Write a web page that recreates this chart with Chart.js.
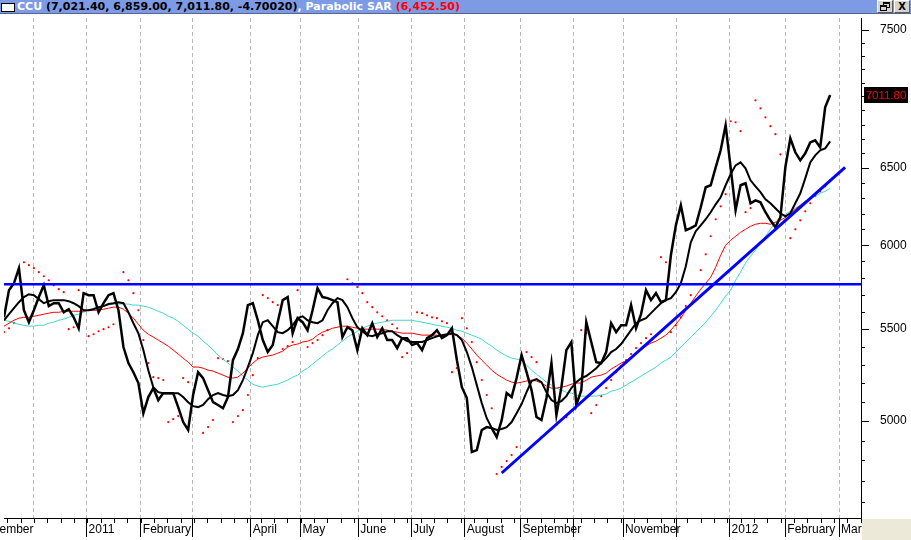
<!DOCTYPE html>
<html><head><meta charset="utf-8">
<script src="https://cdn.jsdelivr.net/npm/chart.js@4.4.1/dist/chart.umd.min.js"></script>
<style>
html,body{margin:0;padding:0;background:#fff;}
body{width:911px;height:540px;position:relative;overflow:hidden;}
#wrap{position:absolute;left:0;top:0;width:911px;height:540px;}
#bar{position:absolute;left:0;top:0;width:911px;height:13px;background:#7d9be4;border-bottom:1px solid #56658c;font:bold 11px "DejaVu Sans",sans-serif;line-height:13px;white-space:nowrap;}
#chk{position:absolute;left:1px;top:3px;width:12px;height:7px;background:#fff;border:1px solid #000;}
#ttl{position:absolute;left:17px;top:0;}
.w{color:#fff}.k{color:#000}.r{color:#ff0000}
.btn{position:absolute;top:0;width:14px;height:11px;background:#d6d3cc;border:1px solid;border-color:#fff #5a5a5a #5a5a5a #fff;font:bold 10px "DejaVu Sans",sans-serif;line-height:11px;text-align:center;color:#000;}
.sq{position:absolute;width:5px;height:3px;border:1px solid #000;border-top-width:2px;background:#d6d3cc;}
#corner{position:absolute;left:862px;top:519px;width:49px;height:21px;background:#ece9d8;}
</style></head>
<body>
<div id="wrap"><canvas id="c" width="911" height="540"></canvas></div>
<div id="bar"><span id="chk"></span><span id="ttl"><span class="w">CCU </span><span class="k">(7,021.40, 6,859.00, 7,011.80, -4.70020)</span><span class="w">, Parabolic SAR </span><span class="r">(6,452.50)</span></span>
<div class="btn" style="left:877px"><div class="sq" style="left:5px;top:1px"></div><div class="sq" style="left:2px;top:4px"></div></div>
<div class="btn" style="left:894px">X</div></div>
<div id="corner"></div>
<script>
// Each sample = 2 trading days, Dec 2010 .. Feb 2012
const price = [
5568,5727,5768,5859,5609,5540,5609,5686,5756,5633,
5650,5650,5597,5615,5568,5505,5709,5697,5697,5597,
5650,5697,5709,5609,5399,5310,5260,5201,5041,5126,
5174,5110,5147,5147,5147,5073,4995,4954,5137,5260,
5228,5163,5099,5084,5067,5126,5326,5388,5477,5639,
5650,5551,5438,5371,5410,5540,5668,5686,5477,5563,
5540,5494,5609,5739,5686,5680,5668,5656,5455,5511,
5494,5382,5505,5466,5534,5455,5505,5438,5438,5393,
5449,5449,5410,5421,5382,5449,5466,5494,5449,5466,
5505,5326,5179,5121,4842,4852,4954,4969,4964,4918,
5005,5147,5126,5228,5354,5260,5163,5021,5005,5121,
5310,5031,5179,5382,5427,5084,5163,5540,5427,5315,
5310,5371,5534,5483,5522,5522,5639,5505,5586,5727,
5668,5709,5656,5668,5938,6125,6254,6094,6107,6125,
6241,6372,6385,6505,6621,6795,6505,6222,6385,6398,
6267,6286,6273,6209,6157,6113,6176,6505,6703,6607,
6552,6600,6675,6689,6640,6922,7011.80];

const fastAvg = [
5551,5586,5621,5656,5686,5703,5697,5674,5650,5662,
5668,5668,5668,5662,5650,5633,5609,5609,5615,5627,
5633,5645,5650,5656,5650,5597,5534,5477,5382,5271,
5179,5152,5147,5147,5147,5147,5126,5099,5078,5073,
5084,5115,5137,5147,5137,5131,5137,5163,5217,5288,
5365,5466,5540,5551,5517,5483,5477,5494,5522,5563,
5574,5551,5540,5534,5551,5609,5650,5680,5668,5627,
5563,5511,5488,5466,5460,5471,5477,5488,5488,5466,
5449,5432,5427,5427,5427,5438,5449,5460,5466,5471,
5477,5466,5438,5371,5288,5190,5094,5015,4964,4954,
4959,4969,4995,5041,5089,5152,5212,5222,5206,5152,
5110,5094,5105,5131,5174,5206,5228,5239,5260,5282,
5310,5337,5371,5388,5416,5455,5494,5534,5551,5563,
5592,5621,5650,5668,5680,5715,5768,5871,6018,6088,
6125,6164,6209,6260,6306,6385,6458,6518,6538,6498,
6418,6378,6339,6293,6267,6235,6202,6183,6202,6267,
6332,6431,6538,6586,6621,6634,6682];

const redAvg = [
5517,5534,5551,5563,5568,5568,5574,5580,5586,5592,
5597,5597,5603,5603,5603,5603,5603,5609,5609,5609,
5615,5621,5627,5627,5615,5592,5563,5528,5494,5471,
5455,5438,5421,5404,5382,5360,5337,5315,5288,5288,
5282,5271,5266,5255,5244,5233,5228,5233,5255,5282,
5310,5332,5343,5349,5354,5365,5376,5399,5410,5416,
5427,5432,5443,5466,5483,5494,5505,5511,5517,5517,
5511,5505,5500,5500,5500,5500,5500,5494,5488,5483,
5477,5477,5477,5471,5466,5466,5466,5466,5460,5466,
5471,5466,5449,5421,5388,5354,5326,5299,5271,5249,
5233,5217,5206,5201,5206,5212,5217,5212,5201,5185,
5174,5174,5179,5185,5195,5201,5201,5217,5233,5239,
5244,5255,5277,5293,5310,5321,5343,5365,5382,5404,
5421,5432,5449,5466,5494,5528,5563,5609,5650,5692,
5733,5768,5804,5865,5938,6000,6031,6056,6081,6100,
6119,6132,6138,6138,6132,6145,6157,6176,6202,6228,
6254,6280,6299,6326,6352,6385,6425];

const cyanAvg = [
5551,5545,5534,5528,5522,5517,5517,5522,5522,5534,
5540,5551,5557,5568,5580,5586,5597,5609,5621,5627,
5633,5639,5645,5645,5645,5645,5639,5639,5633,5627,
5615,5603,5592,5574,5563,5545,5522,5500,5477,5460,
5432,5410,5382,5354,5332,5310,5288,5266,5239,5217,
5195,5185,5179,5185,5190,5195,5206,5217,5233,5244,
5266,5282,5304,5326,5349,5371,5388,5410,5432,5455,
5471,5488,5505,5517,5528,5534,5540,5545,5551,5551,
5551,5551,5551,5545,5540,5534,5528,5522,5517,5511,
5505,5494,5488,5477,5466,5455,5443,5421,5404,5382,
5365,5349,5337,5332,5326,5299,5271,5249,5228,5206,
5190,5174,5163,5152,5147,5137,5131,5131,5131,5131,
5137,5142,5158,5163,5174,5190,5206,5222,5239,5255,
5271,5288,5310,5326,5343,5371,5399,5427,5455,5483,
5511,5540,5574,5609,5650,5692,5727,5786,5835,5890,
5932,5969,6012,6056,6100,6145,6176,6196,6215,6235,
6254,6280,6299,6313,6332,6345,6365];

const sar = [
5483,5505,5534,null,5895,5877,5859,5835,5810,5786,
5756,5733,5715,5500,5511,5727,5709,5460,5471,5488,
5500,5511,5528,null,5835,5786,5709,5609,5438,5310,
5233,5228,5217,4995,5010,5026,5228,5206,null,null,
4939,4969,5005,5337,5332,5321,4995,5026,5057,5137,
5244,5337,5697,5680,5656,5639,5388,5404,5427,5727,
null,5399,5421,5438,5466,5494,null,null,null,5792,
5768,5745,5709,5656,5627,5597,5574,5551,5528,5505,
5343,5365,null,5597,5592,5580,5568,5563,5545,5534,
5260,5282,5563,5505,5427,5315,5217,5137,5067,4733,
4768,4797,4827,4867,null,5371,5343,5315,4918,4939,
4959,4980,5005,5021,null,null,5494,5477,5041,5084,
5131,5174,5217,5260,5293,5326,5360,5393,5421,5449,
5471,null,5926,5895,5483,5522,5568,5633,5697,5762,
5847,5944,6056,6164,6247,6326,6823,6816,6753,6209,
6235,6973,6915,6851,6788,6732,6593,null,6044,6100,
6157,6215,6267,6313,6345,6378,6412];

const resistanceLevel = 5762;
const trendDays = [100, 169];
const trendValues = [4738, 6505];

// axis: month starts (in 2-day sample units) and their labels
const monthTicks  = [-5.6, 6, 16.6, 27.5, 37.8, 49.6, 59.6, 71.2, 81.8, 92.6, 103.8, 114.4, 124.4, 135.2, 145.8, 157.0, 167.8];
const monthLabels = ['December','', '2011','February','','April','May','June','July','August','September','','November','','2012','February','March'];
const yTickValues = [5000, 5500, 6000, 6500, 7000, 7500];
const xMin = 0, xMax = 172.2, yMin = 4522, yMax = 7594;

const pts = arr => arr.map((v, i) => ({x: i, y: v}));

const weekStep = 2.68;
const weekTicks = [];
for (let v = 6 - 3 * weekStep; v < xMax; v += weekStep) if (v > xMin) weekTicks.push(v);

const extras = {
  id: 'extras',
  afterDraw(chart) {
    const {ctx} = chart;
    const ys = chart.scales.y, xs = chart.scales.x;
    ctx.save();
    ctx.strokeStyle = '#000';
    ctx.lineWidth = 1;
    ctx.beginPath();
    for (let v = 4600; v <= 7500; v += 100) {
      if (v % 500 === 0) continue;
      const py = Math.round(ys.getPixelForValue(v)) + 0.5;
      ctx.moveTo(ys.left, py); ctx.lineTo(ys.left + 4, py);
    }
    weekTicks.forEach(v => {
      const px = Math.round(xs.getPixelForValue(v)) + 0.5;
      ctx.moveTo(px, xs.top); ctx.lineTo(px, xs.top + 5);
    });
    ctx.stroke();
    const last = price[price.length - 1];
    const py = ys.getPixelForValue(last);
    ctx.fillStyle = '#000';
    ctx.fillRect(ys.left + 3, Math.round(py) - 8, 44, 16);
    ctx.fillStyle = '#ff0000';
    ctx.font = '11.5px "Liberation Sans", Arial, sans-serif';
    ctx.textAlign = 'center';
    ctx.textBaseline = 'middle';
    ctx.fillText(last.toFixed(2), ys.left + 25, Math.round(py) + 0.5);
    ctx.restore();
  }
};

Chart.defaults.font.family = '"Liberation Sans", Arial, sans-serif';

new Chart(document.getElementById('c'), {
  type: 'line',
  data: {
    datasets: [
      {label: 'Resistance', data: [{x: xMin, y: resistanceLevel}, {x: xMax, y: resistanceLevel}], borderColor: '#0000ff', borderWidth: 2.5, pointRadius: 0, order: 0},
      {label: 'Trend', data: trendDays.map((d, i) => ({x: d, y: trendValues[i]})), borderColor: '#0000ff', borderWidth: 3, pointRadius: 0, order: 0},
      {label: 'CCU', data: pts(price), borderColor: '#000', borderWidth: 2.5, pointRadius: 0, order: 1},
      {label: 'Fast MA', data: pts(fastAvg), borderColor: '#000', borderWidth: 2, pointRadius: 0, order: 2},
      {label: 'MA red', data: pts(redAvg), borderColor: '#ff0000', borderWidth: 1, pointRadius: 0, order: 3},
      {label: 'MA cyan', data: pts(cyanAvg), borderColor: '#3fd8cc', borderWidth: 1, pointRadius: 0, order: 4},
      {label: 'Parabolic SAR', data: pts(sar), showLine: false, pointRadius: 1.1, pointStyle: 'circle', pointBackgroundColor: '#ff0000', pointBorderWidth: 0, borderColor: '#ff0000', order: 5}
    ]
  },
  options: {
    responsive: false,
    animation: false,
    devicePixelRatio: 1,
    events: [],
    layout: {padding: {top: 18, left: 0, right: 0, bottom: 0}},
    elements: {line: {tension: 0}},
    plugins: {legend: {display: false}, tooltip: {enabled: false}},
    scales: {
      x: {
        type: 'linear', position: 'bottom', min: xMin, max: xMax,
        afterBuildTicks(s) { s.ticks = monthTicks.map(v => ({value: v})); },
        afterFit(s) { s.height = 22; s.paddingLeft = 0; s.paddingRight = 0; s.paddingTop = 0; s.paddingBottom = 0; },
        ticks: {autoSkip: false, maxRotation: 0, minRotation: 0, align: 'start', labelOffset: 2, padding: -15,
                color: '#000', font: {size: 12}, callback: (v, i) => monthLabels[i]},
        grid: {color: '#b8b8b8', lineWidth: 1, drawOnChartArea: true, drawTicks: true, tickLength: 19,
               tickColor: c => (c.tick && c.tick.value === 6) ? 'rgba(0,0,0,0)' : '#000', tickWidth: 1},
        border: {display: true, color: '#000', width: 1, dash: [4, 3]}
      },
      y: {
        type: 'logarithmic', position: 'right', min: yMin, max: yMax,
        afterBuildTicks(s) { s.ticks = yTickValues.map(v => ({value: v})); },
        afterFit(s) { s.width = 50; s.paddingTop = 0; s.paddingBottom = 0; },
        ticks: {autoSkip: false, padding: 11, color: '#000', font: {size: 12}, callback: v => String(v)},
        grid: {drawOnChartArea: false, drawTicks: true, tickLength: 8, tickColor: '#000', tickWidth: 1},
        border: {display: true, color: '#000', width: 1}
      }
    }
  },
  plugins: [extras]
});
</script>
</body></html>
